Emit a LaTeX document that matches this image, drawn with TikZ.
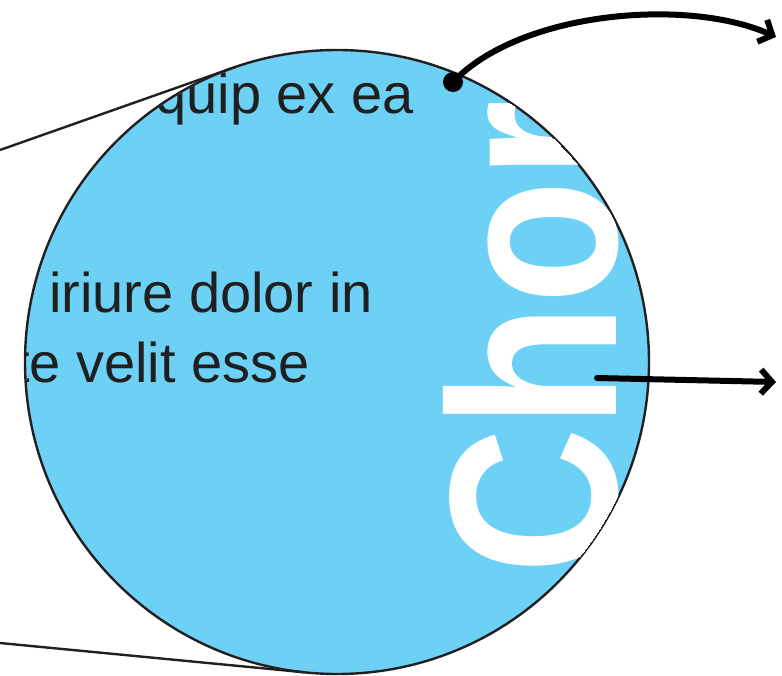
\documentclass[tikz,border=0pt]{standalone}
\usepackage{fontspec}
\usepackage{graphicx}
\usetikzlibrary{arrows.meta, calc}
\newfontfamily\lensfont{Liberation Sans}
\newfontfamily\wordfont{Liberation Sans Bold}
\definecolor{lensblue}{HTML}{6DD0F5}
\definecolor{rimgray}{HTML}{231F20}

\begin{document}
\begin{tikzpicture}[x=1pt, y=-1pt,
    lens/.style={circle, draw=rimgray, line width=2.4pt, fill=lensblue, minimum size=624pt, inner sep=0pt, outer sep=0pt},
    body/.style={anchor=base east, inner sep=0pt, font=\lensfont\fontsize{56}{60}\selectfont, text=black!88},
    pointer/.style={line width=6pt, line cap=round, -{Straight Barb[length=11pt, width=24pt]}},
    grip/.style={circle, fill=black, minimum size=20pt, inner sep=0pt}]
    \useasboundingbox (0,0) rectangle (782,675);

    % left edges of the zoomed area
    \coordinate (topL) at (0,150);
    \coordinate (botL) at (0,643);

    % lens
    \node[lens] (mag) at (337,362) {};
    \draw[rimgray, line width=2.4pt] (topL) -- (mag.109.4);
    \draw[rimgray, line width=2.4pt] (botL) -- (mag.264.5);

    % magnified content
    \begin{scope}
        \clip (mag.center) circle (311);
        \node[body] (line1) at (414,113) {quip ex ea};
        \node[body] (line2) at (373,312) {iriure dolor in};
        \node[body] (line3) at (310,382) {te velit esse};
        \node[rotate=90, anchor=base west, inner sep=0pt, text=white,
              font=\wordfont\fontsize{239}{239}\selectfont] (word) at (616,575)
              {\scalebox{0.85}[1]{Chor}};
    \end{scope}

    % pointers
    \node[grip] (hold) at (453,82) {};
    \coordinate (outA) at (776,37);
    \coordinate (inB) at (597,378);
    \coordinate (outB) at (776,382);
    \draw[pointer] (hold.center) .. controls (522,10) and (690,-2) .. (outA);
    \draw[pointer] (inB) -- (outB);
\end{tikzpicture}
\end{document}
